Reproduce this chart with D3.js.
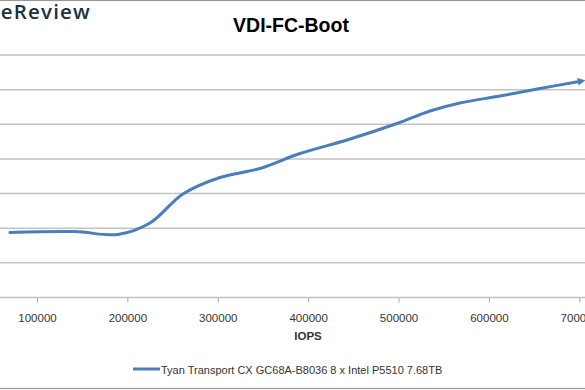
<!DOCTYPE html>
<html>
<head>
<meta charset="utf-8">
<script src="https://cdn.jsdelivr.net/npm/d3@7"></script>
<style>
  html, body { margin: 0; padding: 0; background: #ffffff; }
  svg { display: block; }
</style>
</head>
<body>
<svg id="chart" width="585" height="390"></svg>
<script>
// ---- data ----
const chartTitle = "VDI-FC-Boot";
const xAxisTitle = "IOPS";
const seriesName = "Tyan Transport CX GC68A-B8036 8 x Intel P5510 7.68TB";
const iops =    [70000, 142000, 189600, 225000, 261500, 302500, 346700, 391000, 443000, 498300, 534800, 568000, 612300, 656500, 700000];
const latency = [1.876, 1.902,  1.819,  2.150,  2.988,  3.464,  3.724,  4.157,  4.546,  5.023,  5.383,  5.614,  5.816,  6.033,  6.235];
const xTicks = [0, 100000, 200000, 300000, 400000, 500000, 600000, 700000];
const yTicks = [0, 1, 2, 3, 4, 5, 6, 7];

const svg = d3.select("#chart");
const lineColor = "#4a7ebb";
const gridColor = "#c3c3c3";

// scales (plot area extends past the visible crop on the left)
const x = d3.scaleLinear().domain([0, 700000]).range([-53.4, 579.3]);
const y = d3.scaleLinear().domain([0, 7]).range([297.5, 55]);

// outer chart border (only top/bottom visible in the crop)
svg.append("rect")
  .attr("x", -60).attr("y", 0.5).attr("width", 720).attr("height", 388)
  .attr("fill", "none").attr("stroke", "#9a9a9a").attr("stroke-width", 1.2);

// logo (cropped)
svg.append("text")
  .attr("x", 91).attr("y", 18.5)
  .attr("text-anchor", "end")
  .attr("font-family", "Open Sans, DejaVu Sans, sans-serif")
  .attr("font-weight", 600)
  .attr("font-size", 20.5)
  .attr("letter-spacing", 1.2)
  .attr("fill", "#1b3140")
  .text("StorageReview");

// title
svg.append("text")
  .attr("x", 291).attr("y", 32)
  .attr("text-anchor", "middle")
  .attr("font-family", "Liberation Sans, Arial, sans-serif")
  .attr("font-weight", "bold")
  .attr("font-size", 19.5)
  .attr("fill", "#000")
  .text(chartTitle);

// gridlines
svg.append("g").selectAll("line")
  .data(yTicks.filter(d => d > 0))
  .join("line")
  .attr("x1", x(0)).attr("x2", 620)
  .attr("y1", d => y(d)).attr("y2", d => y(d))
  .attr("stroke", gridColor).attr("stroke-width", 1.5);

// y axis (labels fall outside the crop)
const yAxis = svg.append("g").attr("transform", `translate(${x(0)},0)`)
  .call(d3.axisLeft(y).tickValues(yTicks).tickSize(0).tickPadding(8));
yAxis.select(".domain").remove();
yAxis.selectAll("text").attr("font-family", "Liberation Sans, Arial, sans-serif").attr("font-size", 11.5).attr("fill", "#333");

// x axis
const xAxis = svg.append("g").attr("transform", `translate(0,${y(0)})`)
  .call(d3.axisBottom(x).tickValues(xTicks).tickSize(5).tickFormat(d3.format("d")));
xAxis.select(".domain").remove();
xAxis.selectAll(".tick line").attr("stroke", "#a6a6a6").attr("stroke-width", 1);
xAxis.selectAll("text")
  .attr("y", 16)
  .attr("font-family", "Liberation Sans, Arial, sans-serif")
  .attr("font-size", 11.5)
  .attr("fill", "#333");
svg.append("line")
  .attr("x1", x(0)).attr("x2", 620)
  .attr("y1", y(0)).attr("y2", y(0))
  .attr("stroke", gridColor).attr("stroke-width", 1.5);

// x axis title
svg.append("text")
  .attr("x", 308).attr("y", 339.5)
  .attr("text-anchor", "middle")
  .attr("font-family", "Liberation Sans, Arial, sans-serif")
  .attr("font-weight", "bold")
  .attr("font-size", 11.5)
  .attr("fill", "#333")
  .text(xAxisTitle);

// arrow marker
svg.append("defs").append("marker")
  .attr("id", "arrow")
  .attr("viewBox", "0 0 10 10")
  .attr("refX", 2).attr("refY", 5)
  .attr("markerWidth", 2.6).attr("markerHeight", 2.6)
  .attr("orient", "auto")
  .append("path")
  .attr("d", "M0,0 L10,5 L0,10 Z")
  .attr("fill", lineColor);

// series line
const data = iops.map((v, i) => ({ x: v, y: latency[i] }));
const line = d3.line()
  .x(d => x(d.x))
  .y(d => y(d.y))
  .curve(d3.curveCatmullRom.alpha(0.5));
svg.append("path")
  .datum(data)
  .attr("d", line)
  .attr("fill", "none")
  .attr("stroke", lineColor)
  .attr("stroke-width", 3)
  .attr("stroke-linecap", "round")
  .attr("marker-end", "url(#arrow)");

// legend
const legend = svg.append("g");
legend.append("line")
  .attr("x1", 133).attr("x2", 160)
  .attr("y1", 369).attr("y2", 369)
  .attr("stroke", lineColor).attr("stroke-width", 3);
legend.append("text")
  .attr("x", 161).attr("y", 373.5)
  .attr("font-family", "Liberation Sans, Arial, sans-serif")
  .attr("font-size", 11)
  .attr("fill", "#333")
  .text(seriesName);
</script>
</body>
</html>
